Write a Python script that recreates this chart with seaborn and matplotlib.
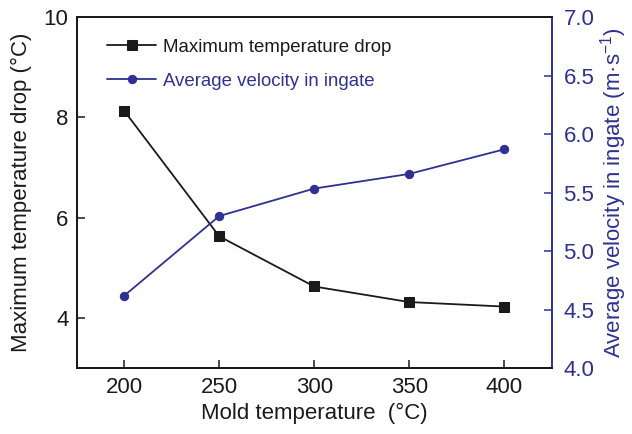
import numpy as np
import pandas as pd
import matplotlib
matplotlib.use("Agg")
import matplotlib.pyplot as plt
import seaborn as sns

mold_temp = [200, 250, 300, 350, 400]
max_temp_drop = [8.13, 5.63, 4.63, 4.32, 4.23]
avg_velocity = [4.62, 5.30, 5.535, 5.66, 5.87]
left_ticks = [4, 6, 8, 10]
right_ticks = [4.0, 4.5, 5.0, 5.5, 6.0, 6.5, 7.0]
x_ticks = [200, 250, 300, 350, 400]

sns.set_style("ticks")
plt.rcParams['font.family'] = ['Liberation Sans', 'DejaVu Sans']
plt.rcParams['mathtext.fontset'] = 'custom'
plt.rcParams['mathtext.rm'] = 'Liberation Sans'
plt.rcParams['mathtext.it'] = 'Liberation Sans'

BLUE = '#2e3192'
BLACK = '#1a1a1a'

df = pd.DataFrame({'T': mold_temp, 'drop': max_temp_drop, 'v': avg_velocity})

fig = plt.figure(figsize=(6.32, 4.34), dpi=100)
ax = fig.add_axes([0.1214, 0.1514, 0.7525, 0.8094])
ax2 = ax.twinx()

sns.lineplot(data=df, x='T', y='drop', ax=ax, color=BLACK, marker='s', markersize=6.5,
             markeredgecolor=BLACK, linewidth=1.3, label='Maximum temperature drop', legend=False)
sns.lineplot(data=df, x='T', y='v', ax=ax2, color=BLUE, marker='o', markersize=6,
             markeredgecolor=BLUE, linewidth=1.3, label='Average velocity in ingate', legend=False)

ax.set_xlim(175, 425.3)
ax.set_ylim(3, 10)
ax2.set_ylim(4.0, 7.0)
ax.set_xticks(x_ticks)
ax.set_yticks(left_ticks)
ax2.set_yticks(right_ticks)
ax2.set_yticklabels([f"{t:.1f}" for t in right_ticks])

fs = 16
ax.tick_params(axis='both', direction='in', length=6, width=1.1, labelsize=fs, colors=BLACK, pad=6)
ax2.tick_params(axis='y', direction='in', length=6, width=1.1, labelsize=fs, colors=BLUE, pad=8)

for s in ['left', 'bottom', 'top']:
    ax.spines[s].set_linewidth(1.4)
    ax.spines[s].set_color(BLACK)
    ax2.spines[s].set_linewidth(1.4)
    ax2.spines[s].set_color(BLACK)
ax2.spines['right'].set_color(BLUE)
ax2.spines['right'].set_linewidth(1.4)
ax.spines['right'].set_visible(False)

ax.set_xlabel('Mold temperature  (°C)', fontsize=fs, color=BLACK, labelpad=4)
ax.set_ylabel('Maximum temperature drop (°C)', fontsize=fs, color=BLACK, labelpad=8)
ax2.set_ylabel('Average velocity in ingate (m·s$^{\\mathregular{-1}}$)', fontsize=fs,
               color=BLUE, labelpad=3)

h1, l1 = ax.get_legend_handles_labels()
h2, l2 = ax2.get_legend_handles_labels()
leg = ax2.legend(h1 + h2, l1 + l2, loc='upper left', bbox_to_anchor=(0.037, 0.975),
                 frameon=False, fontsize=13.4, handlelength=2.6, handletextpad=0.4,
                 labelspacing=0.9, borderaxespad=0.3)
leg.get_texts()[0].set_color(BLACK)
leg.get_texts()[1].set_color(BLUE)

fig.savefig('out.png', dpi=100)
